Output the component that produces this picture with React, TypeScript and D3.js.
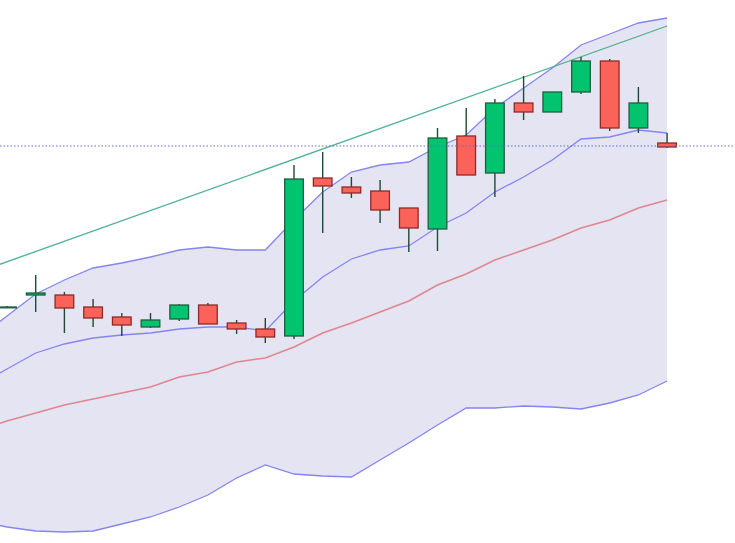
import React from "react";
import * as d3 from "d3";

// Candle data (sessions 1..24)
const candleIdx = d3.range(1, 25);
const open = [123.6, 124.8, 124.8, 123.6, 122.6, 121.6, 122.4, 123.8, 122.0, 121.4, 120.7, 136.5, 135.6, 135.2, 133.5, 131.4, 140.7, 137.0, 144.0, 143.1, 145.1, 148.2, 141.5, 140.0];
const high = [123.7, 126.8, 125.1, 124.4, 123.0, 123.0, 123.9, 124.0, 122.3, 122.5, 137.8, 139.1, 136.6, 136.3, 133.5, 141.5, 143.5, 144.4, 146.7, 145.1, 148.6, 148.4, 145.6, 141.0];
const low = [123.5, 123.1, 121.0, 121.6, 120.7, 121.5, 122.2, 121.9, 120.9, 120.0, 120.4, 131.0, 134.5, 132.0, 129.1, 129.2, 136.8, 134.6, 142.3, 143.1, 144.9, 141.2, 141.0, 139.5];
const close = [123.6, 125.0, 123.5, 122.5, 121.8, 122.3, 123.8, 121.9, 121.4, 120.6, 136.4, 135.7, 135.0, 133.3, 131.5, 140.5, 136.8, 144.0, 143.1, 145.1, 148.2, 141.5, 144.0, 139.6];

// Indicator lines (sessions 0..24)
const lineIdx = d3.range(0, 25);
const upperBand = [120.5, 122.7, 124.9, 126.3, 127.5, 128.0, 128.6, 129.3, 129.6, 129.3, 129.3, 132.3, 135.1, 137.1, 137.8, 138.1, 139.6, 140.8, 143.5, 145.5, 147.5, 149.8, 150.9, 152.0, 152.5];
const lowerBand = [102.2, 101.6, 101.2, 101.1, 101.2, 101.9, 102.6, 103.6, 104.8, 106.5, 107.8, 106.9, 106.7, 106.6, 108.3, 110.0, 111.8, 113.5, 113.5, 113.7, 113.6, 113.4, 114.0, 114.8, 116.2];
const middleBand = [111.3, 112.2, 113.0, 113.8, 114.4, 115.0, 115.6, 116.6, 117.1, 118.1, 118.5, 119.6, 121.0, 122.0, 123.1, 124.2, 125.8, 126.9, 128.3, 129.3, 130.3, 131.5, 132.3, 133.5, 134.3];
const innerLine = [115.8, 117.4, 119.0, 119.9, 120.5, 120.8, 121.0, 121.4, 121.6, 121.6, 121.2, 124.2, 126.6, 128.4, 129.3, 129.7, 131.6, 133.0, 135.1, 136.6, 138.3, 140.4, 140.6, 141.3, 141.0];

// Trend line endpoints (session index, price) and last price level
const trendIdx = [0, 24];
const trendVal = [127.1, 151.7];
const lastPrice = [139.7];

const W = 735;
const H = 543;

export default function App() {
  const x = d3.scaleLinear().domain([0, 24]).range([-21.7, 667.1]);
  const y = d3.scaleLinear().domain([100, 154.3]).range([H, 0]);
  const step = x(1) - x(0);
  const bw = step * 0.65;

  const area = d3
    .area<number>()
    .x((d) => x(d))
    .y0((d) => y(lowerBand[d]))
    .y1((d) => y(upperBand[d]));

  const mkLine = (arr: number[]) =>
    d3
      .line<number>()
      .x((d) => x(d))
      .y((d) => y(arr[d]))(lineIdx) as string;

  return (
    <svg
      width={W}
      height={H}
      style={{ position: "absolute", left: 0, top: 0, background: "#fff" }}
    >
      <path d={area(lineIdx) as string} fill="#e4e4f2" stroke="none" />
      <path d={mkLine(upperBand)} fill="none" stroke="#8585f0" strokeWidth={1.3} />
      <path d={mkLine(lowerBand)} fill="none" stroke="#8585f0" strokeWidth={1.3} />
      <path d={mkLine(innerLine)} fill="none" stroke="#8585f0" strokeWidth={1.3} />
      <path d={mkLine(middleBand)} fill="none" stroke="#e0868f" strokeWidth={1.5} />
      <line
        x1={x(trendIdx[0])}
        y1={y(trendVal[0])}
        x2={x(trendIdx[1])}
        y2={y(trendVal[1])}
        stroke="#4cb08c"
        strokeWidth={1.3}
      />
      {candleIdx.map((d, k) => {
        const up = close[k] >= open[k];
        const top = y(Math.max(open[k], close[k]));
        const bot = y(Math.min(open[k], close[k]));
        return (
          <g key={d}>
            <line
              x1={x(d)}
              x2={x(d)}
              y1={y(high[k])}
              y2={y(low[k])}
              stroke="#1f4a35"
              strokeWidth={1.4}
            />
            <rect
              x={x(d) - bw / 2}
              y={top}
              width={bw}
              height={Math.max(bot - top, 0.8)}
              fill={up ? "#02c46f" : "#fb6259"}
              stroke={up ? "#1d5e3f" : "#8c2b27"}
              strokeWidth={1.3}
            />
          </g>
        );
      })}
      <line
        x1={0}
        x2={W}
        y1={y(lastPrice[0])}
        y2={y(lastPrice[0])}
        stroke="#5a6fe0"
        strokeWidth={1.2}
        strokeDasharray="1.5,2"
      />
    </svg>
  );
}
